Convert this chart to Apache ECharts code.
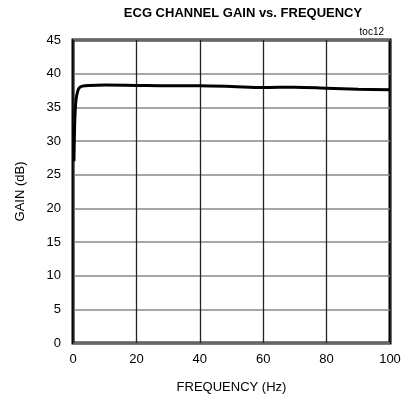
<!DOCTYPE html>
<html>
<head>
<meta charset="utf-8">
<script src="https://cdn.jsdelivr.net/npm/echarts@6/dist/echarts.min.js"></script>
<style>html,body{margin:0;padding:0;background:#fff}#c{width:406px;height:402px}</style>
</head>
<body>
<div id="c"></div>
<script>
const freqHz = [0.3, 0.5, 0.7, 1, 1.5, 2, 3, 5, 10, 20, 30, 40, 50, 60, 70, 80, 90, 100];
const gainDb = [27, 32, 34.5, 36.3, 37.4, 37.9, 38.15, 38.25, 38.3, 38.25, 38.2, 38.2, 38.1, 37.95, 38.0, 37.85, 37.7, 37.6];
const xTicks = [0, 20, 40, 60, 80, 100];
const yTicks = [0, 5, 10, 15, 20, 25, 30, 35, 40, 45];

const font = 'Liberation Sans, Arial, sans-serif';
const chart = echarts.init(document.getElementById('c'), null, {renderer: 'canvas'});
chart.setOption({
  animation: false,
  title: [
    {text: 'ECG CHANNEL GAIN vs. FREQUENCY', left: 238, textAlign: 'center', top: 2,
     textStyle: {fontFamily: font, fontWeight: 'bold', fontSize: 13, color: '#000'}},
    {text: 'toc12', right: 17, top: 22,
     textStyle: {fontFamily: font, fontWeight: 'normal', fontSize: 10, color: '#000'}}
  ],
  grid: {left: 73, right: 16, top: 40, bottom: 59, show: true, borderColor: '#000', borderWidth: 3, backgroundColor: 'transparent'},
  xAxis: {
    type: 'value', min: xTicks[0], max: xTicks[xTicks.length - 1], interval: 20,
    name: 'FREQUENCY (Hz)', nameLocation: 'middle', nameGap: 38,
    nameTextStyle: {fontFamily: font, fontSize: 13, color: '#000'},
    axisLine: {show: false}, axisTick: {show: false},
    axisLabel: {fontFamily: font, fontSize: 13, color: '#000', margin: 10},
    splitLine: {show: true, lineStyle: {color: '#222', width: 1.3}}
  },
  yAxis: {
    type: 'value', min: yTicks[0], max: yTicks[yTicks.length - 1], interval: 5,
    name: 'GAIN (dB)', nameLocation: 'middle', nameGap: 46, nameRotate: 90,
    nameTextStyle: {fontFamily: font, fontSize: 13, color: '#000'},
    axisLine: {show: false}, axisTick: {show: false},
    axisLabel: {fontFamily: font, fontSize: 13, color: '#000', margin: 12},
    splitLine: {show: true, lineStyle: {color: '#888', width: 1.5}}
  },
  series: [{
    type: 'line', data: freqHz.map((f, i) => [f, gainDb[i]]),
    smooth: 0.3, showSymbol: false, lineStyle: {color: '#000', width: 3}
  }]
});
</script>
</body>
</html>
